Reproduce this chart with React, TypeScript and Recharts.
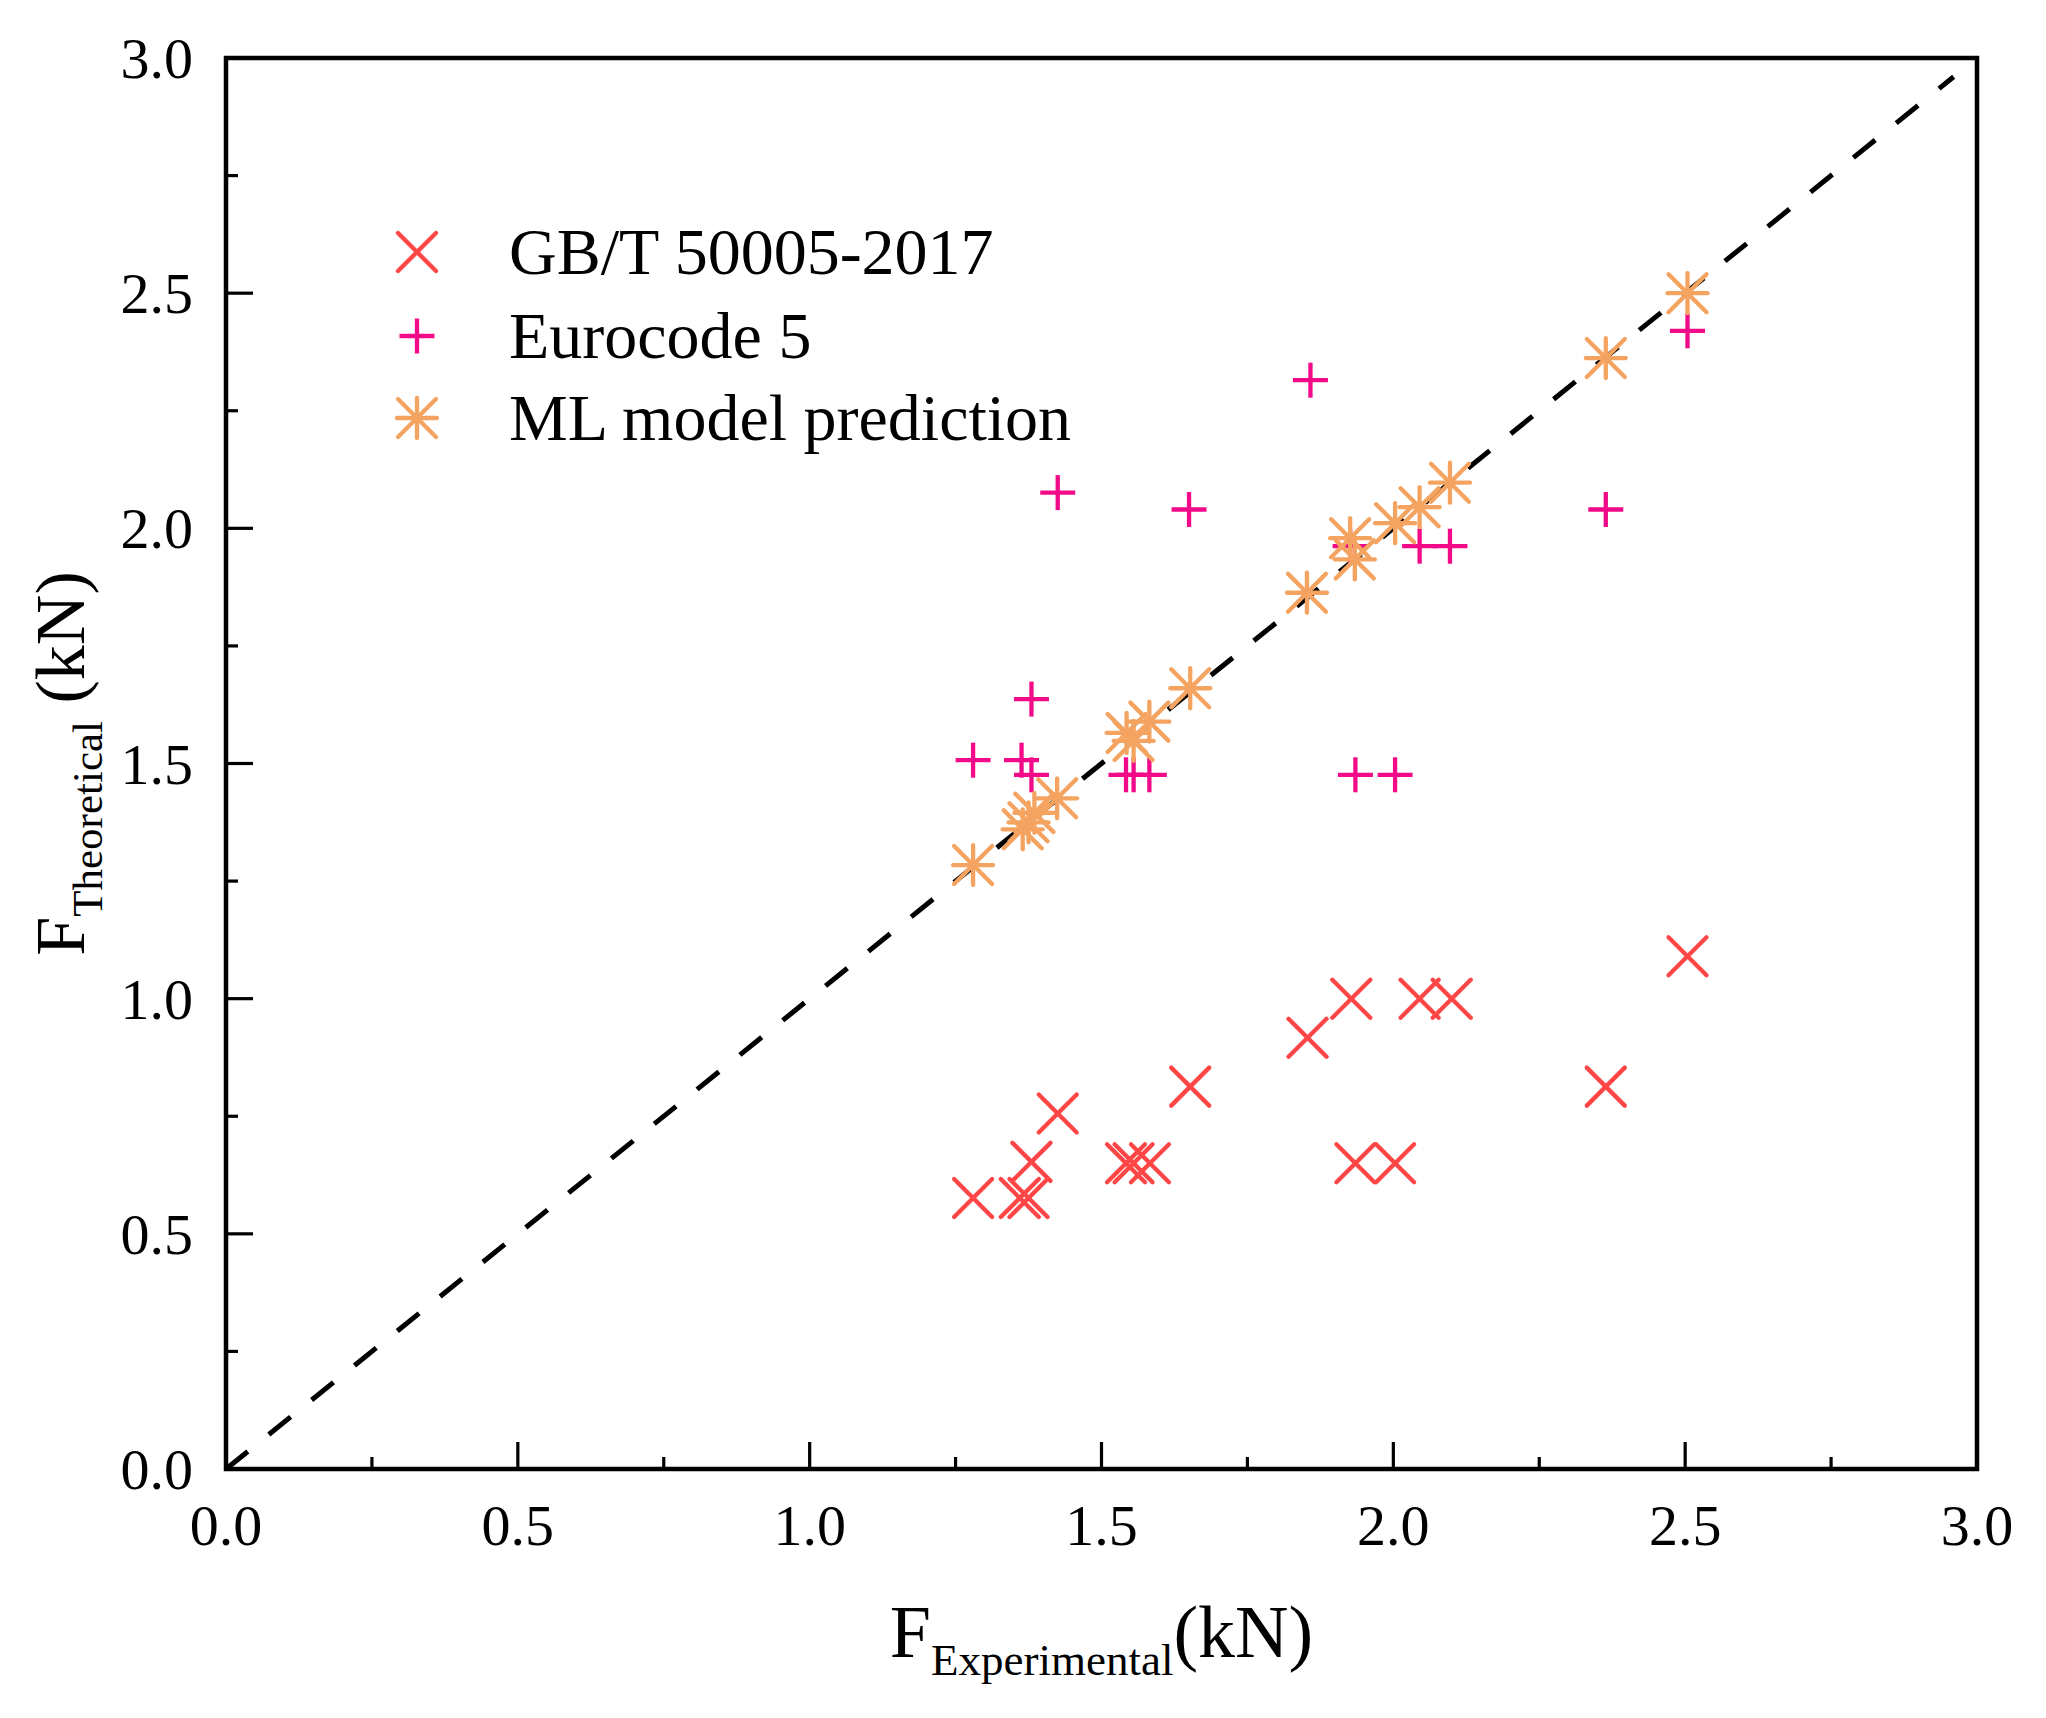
import React from 'react';
import { ScatterChart, Scatter, XAxis, YAxis, ReferenceLine, ReferenceArea } from 'recharts';

// ---- data ----
const gbX = [1.28, 1.36, 1.375, 1.38, 1.425, 1.542, 1.555, 1.583, 1.652, 1.853, 1.928, 1.935, 2.003, 2.045, 2.1, 2.364, 2.504];
const gbY = [0.576, 0.576, 0.576, 0.653, 0.756, 0.65, 0.65, 0.65, 0.813, 0.917, 1.0, 0.65, 0.65, 1.0, 1.0, 0.813, 1.09];

const euX = [1.28, 1.363, 1.38, 1.38, 1.425, 1.542, 1.555, 1.582, 1.65, 1.858, 1.926, 1.935, 2.003, 2.045, 2.097, 2.364, 2.504];
const euY = [1.507, 1.507, 1.476, 1.637, 2.076, 1.476, 1.476, 1.476, 2.04, 2.315, 1.962, 1.476, 1.476, 1.962, 1.962, 2.04, 2.42];

const mlX = [1.28, 1.365, 1.375, 1.385, 1.424, 1.543, 1.555, 1.582, 1.652, 1.852, 1.926, 1.934, 2.003, 2.045, 2.097, 2.364, 2.504];
const mlY = [1.284, 1.36, 1.375, 1.395, 1.426, 1.565, 1.548, 1.589, 1.66, 1.863, 1.979, 1.934, 2.011, 2.045, 2.097, 2.362, 2.5];

const xTicks = [0, 0.25, 0.5, 0.75, 1, 1.25, 1.5, 1.75, 2, 2.25, 2.5, 2.75, 3];
const yTicks = [0, 0.25, 0.5, 0.75, 1, 1.25, 1.5, 1.75, 2, 2.25, 2.5, 2.75, 3];
const diagEnd = 2.96;

const seriesNames = ['GB/T 50005-2017', 'Eurocode 5', 'ML model prediction'];

const toPoints = (xs: number[], ys: number[]) => xs.map((x, i) => ({ x, y: ys[i] }));
const gbData = toPoints(gbX, gbY);
const euData = toPoints(euX, euY);
const mlData = toPoints(mlX, mlY);

// ---- style ----
const FONT = '"Liberation Serif", "Times New Roman", serif';
const GB_COLOR = '#FF4646';
const EU_COLOR = '#F20A88';
const ML_COLOR = '#F4A460';
const W = 2030;
const H = 1702;
const SW = 4.3;

function XMark({ cx, cy, color = GB_COLOR }: any) {
  const r = 19;
  return (
    <g stroke={color} strokeWidth={SW} strokeLinecap="round">
      <line x1={cx - r} y1={cy - r} x2={cx + r} y2={cy + r} />
      <line x1={cx - r} y1={cy + r} x2={cx + r} y2={cy - r} />
    </g>
  );
}

function PlusMark({ cx, cy, color = EU_COLOR }: any) {
  const r = 17.5;
  return (
    <g stroke={color} strokeWidth={SW} strokeLinecap="butt">
      <line x1={cx - r} y1={cy} x2={cx + r} y2={cy} />
      <line x1={cx} y1={cy - r} x2={cx} y2={cy + r} />
    </g>
  );
}

function StarMark({ cx, cy, color = ML_COLOR }: any) {
  const r = 20;
  const d = 19;
  return (
    <g stroke={color} strokeWidth={SW} strokeLinecap="round">
      <line x1={cx - r} y1={cy} x2={cx + r} y2={cy} />
      <line x1={cx} y1={cy - r} x2={cx} y2={cy + r} />
      <line x1={cx - d} y1={cy - d} x2={cx + d} y2={cy + d} />
      <line x1={cx - d} y1={cy + d} x2={cx + d} y2={cy - d} />
    </g>
  );
}

const isMajor = (v: number) => Math.abs(v * 2 - Math.round(v * 2)) < 1e-6;

function XTick(props: any) {
  const { x, y, payload } = props;
  const v = payload.value;
  const major = isMajor(v);
  return (
    <g>
      <line x1={x} x2={x} y1={y} y2={y - (major ? 27 : 12)} stroke="#000" strokeWidth={3.2} />
      {major && (
        <text x={x} y={y + 76} textAnchor="middle" fontFamily={FONT} fontSize={58} fill="#000">
          {v.toFixed(1)}
        </text>
      )}
    </g>
  );
}

function YTick(props: any) {
  const { x, y, payload } = props;
  const v = payload.value;
  const major = isMajor(v);
  return (
    <g>
      <line x1={x} x2={x + (major ? 27 : 12)} y1={y} y2={y} stroke="#000" strokeWidth={3.2} />
      {major && (
        <text x={x - 33} y={y + 20} textAnchor="end" fontFamily={FONT} fontSize={58} fill="#000">
          {v.toFixed(1)}
        </text>
      )}
    </g>
  );
}

function XTitle(props: any) {
  const vb = props.viewBox || { x: 218, y: 1461, width: 1751, height: 241 };
  const cx = vb.x + vb.width / 2;
  return (
    <text x={cx} y={vb.y + 188} textAnchor="middle" fontFamily={FONT} fontSize={74} fill="#000">
      <tspan>F</tspan>
      <tspan fontSize={45} dy={18}>Experimental</tspan>
      <tspan dy={-18}>(kN)</tspan>
    </text>
  );
}

function YTitle(props: any) {
  const vb = props.viewBox || { x: 0, y: 50, width: 218, height: 1411 };
  const cy = vb.y + vb.height / 2;
  return (
    <text
      transform={`translate(${vb.x + 76}, ${cy}) rotate(-90)`}
      x={0}
      y={0}
      textAnchor="middle"
      fontFamily={FONT}
      fontSize={70}
      fill="#000"
    >
      <tspan>F</tspan>
      <tspan fontSize={43} dy={18}>Theoretical</tspan>
      <tspan dy={-18}> (kN)</tspan>
    </text>
  );
}

function LegendOverlay() {
  const rows = [
    { y: 244, mark: <XMark cx={409} cy={244} /> },
    { y: 328, mark: <PlusMark cx={409} cy={328} /> },
    { y: 410, mark: <StarMark cx={409} cy={410} /> },
  ];
  return (
    <svg
      width={W}
      height={H}
      style={{ position: 'absolute', left: 0, top: 0, pointerEvents: 'none' }}
    >
      {rows.map((r, i) => (
        <g key={i}>
          {r.mark}
          <text x={501} y={r.y + 22} fontFamily={FONT} fontSize={66} fill="#000">
            {seriesNames[i]}
          </text>
        </g>
      ))}
    </svg>
  );
}

export default function App() {
  return (
    <div style={{ position: 'relative', width: W, height: H, background: '#fff' }}>
      <ScatterChart width={W} height={H} margin={{ top: 50, right: 61, bottom: 0, left: 0 }}>
        <XAxis
          dataKey="x"
          type="number"
          domain={[0, 3]}
          ticks={xTicks}
          interval={0}
          allowDataOverflow
          height={241}
          tickSize={0}
          tickMargin={0}
          tickLine={false}
          axisLine={false}
          tick={<XTick />}
          label={{ content: <XTitle /> }}
        />
        <YAxis
          dataKey="y"
          type="number"
          domain={[0, 3]}
          ticks={yTicks}
          interval={0}
          allowDataOverflow
          width={218}
          tickSize={0}
          tickMargin={0}
          tickLine={false}
          axisLine={false}
          tick={<YTick />}
          label={{ content: <YTitle /> }}
        />
        <ReferenceLine
          segment={[{ x: 0, y: 0 }, { x: diagEnd, y: diagEnd }]}
          stroke="#000"
          strokeWidth={5}
          strokeDasharray="28 27"
          ifOverflow="visible"
        />
        <Scatter name={seriesNames[0]} data={gbData} shape={(p: any) => <XMark cx={p.cx} cy={p.cy} />} isAnimationActive={false} />
        <Scatter name={seriesNames[1]} data={euData} shape={(p: any) => <PlusMark cx={p.cx} cy={p.cy} />} isAnimationActive={false} />
        <Scatter name={seriesNames[2]} data={mlData} shape={(p: any) => <StarMark cx={p.cx} cy={p.cy} />} isAnimationActive={false} />
        <ReferenceArea x1={0} x2={3} y1={0} y2={3} fill="none" fillOpacity={0} stroke="#000" strokeWidth={4.5} ifOverflow="visible" />
      </ScatterChart>
      <LegendOverlay />
    </div>
  );
}
